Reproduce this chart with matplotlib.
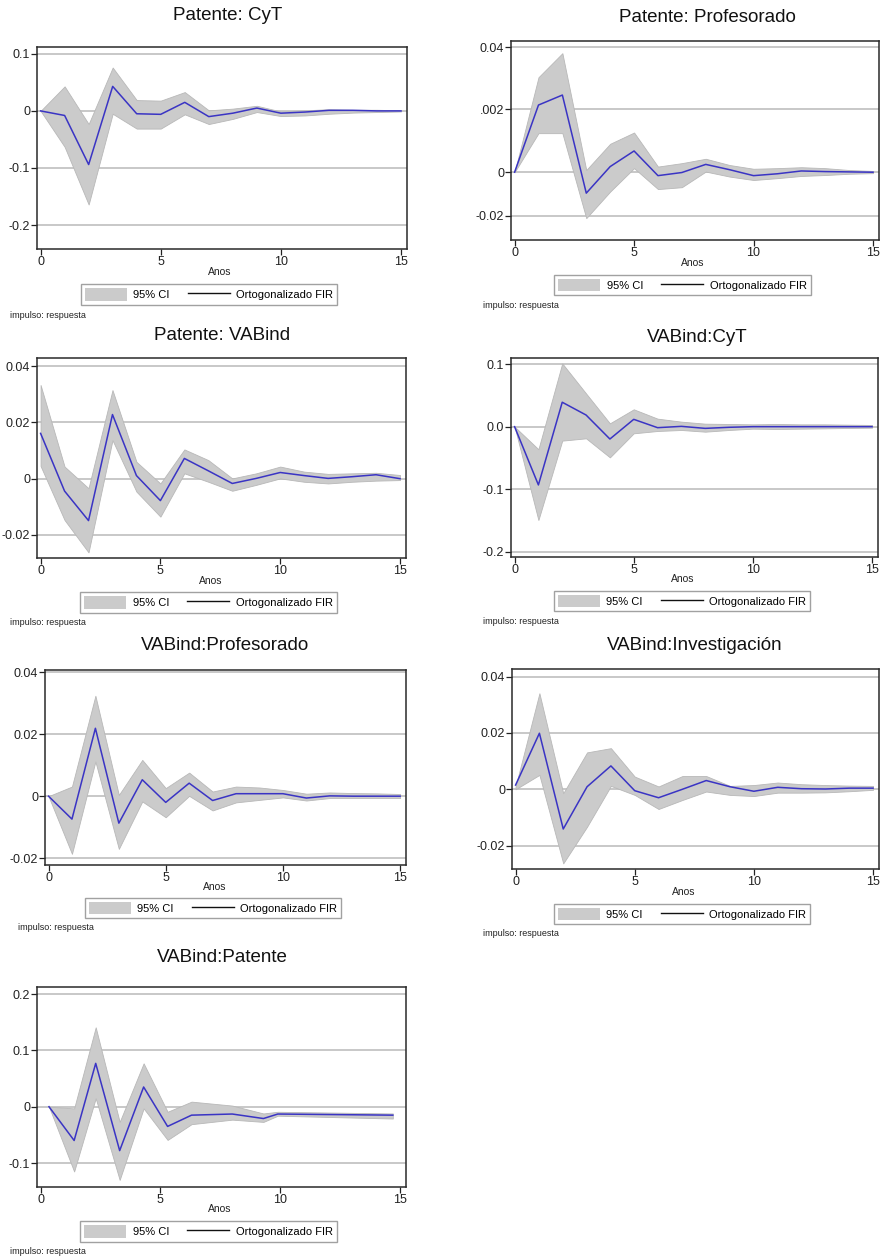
import matplotlib
matplotlib.use("Agg")
import matplotlib.pyplot as plt

plt.rcParams['font.family'] = ['Liberation Sans', 'DejaVu Sans']

# horizon (years)
steps = list(range(16))
steps_vab_pat = [0.35, 1.4, 2.3, 3.3, 4.3, 5.3, 6.3, 8.0, 9.3, 9.9, 14.7]

# Patente: CyT
pat_cyt_irf = [0, -0.008, -0.094, 0.043, -0.005, -0.006, 0.015, -0.010, -0.004, 0.005, -0.004, -0.002, 0.001, 0.001, 0.0, 0.0]
pat_cyt_hi = [0, 0.043, -0.023, 0.076, 0.019, 0.018, 0.033, 0.001, 0.004, 0.009, -0.001, 0.001, 0.003, 0.002, 0.002, 0.001]
pat_cyt_lo = [0, -0.063, -0.164, -0.005, -0.031, -0.031, -0.006, -0.023, -0.014, -0.002, -0.009, -0.008, -0.005, -0.003, -0.002, -0.001]

# Patente: Profesorado
pat_prof_irf = [0, 0.0215, 0.0247, -0.0067, 0.0018, 0.0068, -0.0011, -0.0001, 0.0025, 0.0008, -0.0011, -0.0005, 0.0004, 0.0002, 0.0001, 0.0]
pat_prof_hi = [0, 0.0304, 0.0381, 0.0007, 0.0091, 0.0127, 0.0018, 0.0029, 0.0043, 0.0023, 0.0011, 0.0013, 0.0016, 0.0013, 0.0007, 0.0004]
pat_prof_lo = [0, 0.0125, 0.0125, -0.0147, -0.0062, 0.0013, -0.0054, -0.0048, 0.0002, -0.0014, -0.0025, -0.0019, -0.0012, -0.0009, -0.0005, -0.0003]

# Patente: VABind
pat_vab_irf = [0.0161, -0.0044, -0.0149, 0.0228, 0.0011, -0.0078, 0.0072, 0.0028, -0.0017, 0.0001, 0.0022, 0.0011, 0.0001, 0.0007, 0.0014, 0.0]
pat_vab_hi = [0.0333, 0.0043, -0.0034, 0.0315, 0.0060, -0.0017, 0.0104, 0.0066, 0.0001, 0.0019, 0.0043, 0.0025, 0.0017, 0.0019, 0.0021, 0.0013]
pat_vab_lo = [0.0045, -0.0147, -0.0262, 0.0137, -0.0046, -0.0135, 0.0019, -0.0011, -0.0043, -0.0022, 0.0001, -0.0011, -0.0017, -0.0011, -0.0007, -0.0005]

# VABind: CyT
vab_cyt_irf = [0, -0.093, 0.039, 0.0186, -0.0197, 0.0117, -0.0016, 0.0005, -0.0027, -0.001, 0.0, 0.0, 0.0, 0.0, 0.0, 0.0]
vab_cyt_hi = [0, -0.036, 0.101, 0.053, 0.0053, 0.0277, 0.0128, 0.008, 0.0048, 0.0043, 0.0037, 0.0043, 0.0037, 0.0037, 0.0032, 0.0027]
vab_cyt_lo = [0, -0.149, -0.0223, -0.0186, -0.049, -0.0106, -0.0069, -0.0053, -0.008, -0.0053, -0.0032, -0.0037, -0.0032, -0.0027, -0.0021, -0.0016]

# VABind: Profesorado
vab_prof_irf = [0, -0.0074, 0.0219, -0.0087, 0.0053, -0.0020, 0.0042, -0.0014, 0.0008, 0.0008, 0.0008, -0.0006, 0.0001, 0.0, 0.0, 0.0]
vab_prof_hi = [0, 0.0031, 0.0324, 0.0004, 0.0117, 0.0026, 0.0076, 0.0015, 0.0031, 0.0028, 0.0020, 0.0008, 0.0012, 0.0010, 0.0009, 0.0007]
vab_prof_lo = [0, -0.0186, 0.0112, -0.0170, -0.0017, -0.0068, 0.0001, -0.0046, -0.0020, -0.0012, -0.0004, -0.0014, -0.0006, -0.0006, -0.0006, -0.0006]

# VABind: Investigación
vab_inv_irf = [0.0015, 0.0199, -0.0141, 0.0009, 0.0083, -0.0005, -0.0030, 0.0, 0.0031, 0.0009, -0.0007, 0.0007, 0.0002, 0.0001, 0.0004, 0.0004]
vab_inv_hi = [0.0010, 0.0341, -0.0014, 0.0131, 0.0146, 0.0045, 0.0010, 0.0047, 0.0047, 0.0012, 0.0015, 0.0024, 0.0018, 0.0015, 0.0013, 0.0012]
vab_inv_lo = [0.0, 0.0051, -0.0263, -0.0133, 0.0012, -0.0020, -0.0070, -0.0038, -0.0008, -0.0020, -0.0024, -0.0012, -0.0012, -0.0011, -0.0007, -0.0002]

# VABind: Patente
vab_pat_irf = [0, -0.060, 0.077, -0.078, 0.035, -0.035, -0.015, -0.013, -0.021, -0.013, -0.015]
vab_pat_hi = [0, -0.003, 0.141, -0.027, 0.077, -0.009, 0.009, 0.002, -0.012, -0.009, -0.012]
vab_pat_lo = [0, -0.115, 0.015, -0.130, -0.003, -0.059, -0.031, -0.023, -0.027, -0.016, -0.021]

titles = ["Patente: CyT", "Patente: Profesorado", "Patente: VABind", "VABind:CyT",
          "VABind:Profesorado", "VABind:Investigación", "VABind:Patente"]
ytick_labels = [["0.1", "0", "-0.1", "-0.2"],
                ["0.04", ".002", "0", "-0.02"],
                ["0.04", "0.02", "0", "-0.02"],
                ["0.1", "0.0", "-0.1", "-0.2"],
                ["0.04", "0.02", "0", "-0.02"],
                ["0.04", "0.02", "0", "-0.02"],
                ["0.2", "0.1", "0", "-0.1"]]

W, H = 884, 1259
fig = plt.figure(figsize=(W / 100, H / 100), dpi=100)

# layout in pixels: axes box (l, t, r, b), ylim, ytick positions, title xy, xlabel xy, legend box, note xy
panels = [
    dict(x=steps, irf=pat_cyt_irf, lo=pat_cyt_lo, hi=pat_cyt_hi, box=(37, 47, 407, 249),
         ylim=(-0.242, 0.112), yt=[0.1, 0, -0.1, -0.2], title=(228, 16), xl=(220, 272),
         leg=(83, 284, 335, 305), note=(10, 315)),
    dict(x=steps, irf=pat_prof_irf, lo=pat_prof_lo, hi=pat_prof_hi, box=(511, 41, 879, 240),
         ylim=(-0.0217, 0.042), yt=[0.04, 0.0202, 0, -0.014], title=(707, 17), xl=(693, 263),
         leg=(557, 275, 808, 295), note=(483, 305)),
    dict(x=steps, irf=pat_vab_irf, lo=pat_vab_lo, hi=pat_vab_hi, box=(37, 358, 406, 558),
         ylim=(-0.0282, 0.0429), yt=[0.04, 0.02, 0, -0.02], title=(222, 336), xl=(211, 581),
         leg=(83, 592, 334, 613), note=(10, 623)),
    dict(x=steps, irf=vab_cyt_irf, lo=vab_cyt_lo, hi=vab_cyt_hi, box=(511, 358, 878, 557),
         ylim=(-0.208, 0.1096), yt=[0.1, 0, -0.1, -0.2], title=(697, 337), xl=(683, 579),
         leg=(557, 591, 807, 611), note=(483, 622)),
    dict(x=steps, irf=vab_prof_irf, lo=vab_prof_lo, hi=vab_prof_hi, box=(45, 670, 406, 865),
         ylim=(-0.0222, 0.0407), yt=[0.04, 0.02, 0, -0.02], title=(225, 645), xl=(215, 887),
         leg=(91, 898, 335, 918), note=(18, 928)),
    dict(x=steps, irf=vab_inv_irf, lo=vab_inv_lo, hi=vab_inv_hi, box=(512, 669, 879, 869),
         ylim=(-0.0283, 0.0427), yt=[0.04, 0.02, 0, -0.02], title=(695, 645), xl=(684, 892),
         leg=(557, 904, 807, 924), note=(483, 934)),
    dict(x=steps_vab_pat, irf=vab_pat_irf, lo=vab_pat_lo, hi=vab_pat_hi, box=(37, 987, 406, 1187),
         ylim=(-0.1426, 0.2126), yt=[0.2, 0.1, 0, -0.1], title=(222, 957), xl=(220, 1209),
         leg=(83, 1221, 334, 1242), note=(10, 1252)),
]

band_col = '#cbcbcb'
line_col = '#3a34c4'

for i, p in enumerate(panels):
    l, t, r, b = p['box']
    ax = fig.add_axes([l / W, 1 - b / H, (r - l) / W, (b - t) / H])
    ax.fill_between(p['x'], p['lo'], p['hi'], color=band_col, edgecolor='#b8b8b8', lw=0.6, zorder=2)
    ax.plot(p['x'], p['irf'], color=line_col, lw=1.1, zorder=3)
    ax.set_xlim(-0.15, 15.25)
    ax.set_ylim(*p['ylim'])
    ax.set_xticks([0, 5, 10, 15])
    ax.set_yticks(p['yt'])
    ax.set_yticklabels(ytick_labels[i])
    for y in p['yt']:
        ax.axhline(y, color='#c4c4c4', lw=1.3, zorder=1)
    for s in ax.spines.values():
        s.set_color('#2a2a2a')
        s.set_linewidth(1.1)
    ax.tick_params(direction='out', length=4, width=0.9, labelsize=9, pad=1, colors='#222222')
    ax.set_facecolor('white')

    fig.text(p['title'][0] / W, 1 - p['title'][1] / H, titles[i], ha='center', va='center',
             fontsize=13.5, color='#111111')
    fig.text(p['xl'][0] / W, 1 - p['xl'][1] / H, "Anos", ha='center', va='center',
             fontsize=7.5, color='#222222')
    fig.text(p['note'][0] / W, 1 - p['note'][1] / H, "impulso: respuesta", ha='left', va='center',
             fontsize=6.5, color='#222222')

    bl, bt, br, bb = p['leg']
    h1 = plt.Rectangle((0, 0), 1, 1, facecolor=band_col, edgecolor='none')
    h2 = plt.Line2D([], [], color='#111111', lw=1.0)
    lg = fig.legend([h1, h2], ["95% CI", "Ortogonalizado FIR"], loc='center',
                    bbox_to_anchor=((bl + br) / 2 / W, 1 - (bt + bb) / 2 / H),
                    ncol=2, frameon=True, fancybox=False, fontsize=8,
                    handlelength=3.8, handleheight=1.4, handletextpad=0.6,
                    columnspacing=1.6, borderpad=0.35, borderaxespad=0)
    lg.get_frame().set_edgecolor('#8a8a8a')
    lg.get_frame().set_linewidth(1.0)

fig.savefig("out.png", dpi=100)
